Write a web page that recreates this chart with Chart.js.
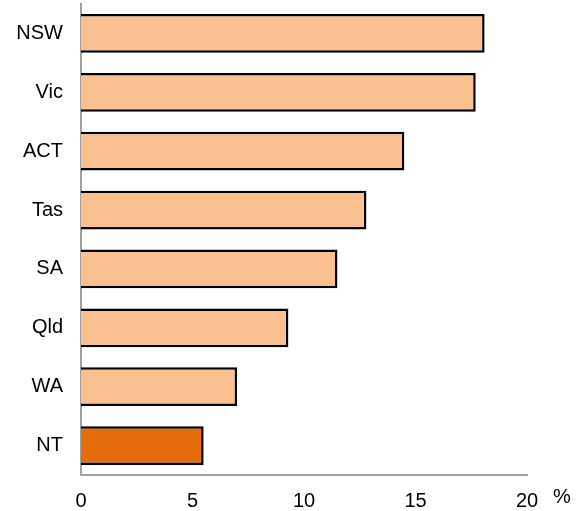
<!DOCTYPE html>
<html>
<head>
<meta charset="utf-8">
<script src="https://cdn.jsdelivr.net/npm/chart.js@4"></script>
<style>
    html, body { margin: 0; padding: 0; background: #ffffff; }
    #wrap { width: 583px; height: 511px; position: relative; }
</style>
</head>
<body>
<div id="wrap"><canvas id="stateChart"></canvas></div>
<script>
/* ==========================================
   Data
   ========================================== */

const states = ["NSW", "Vic", "ACT", "Tas", "SA", "Qld", "WA", "NT"];
const values = [18.1, 17.7, 14.5, 12.8, 11.5, 9.3, 7.0, 5.5];
const xTicks = [0, 5, 10, 15, 20];
const unitLabel = "%";

// NT is highlighted
const barColours = states.map(s => s === "NT" ? "#E46C0A" : "#FAC090");

// "%" beside the last tick
const unitPlugin = {
    id: "unitLabel",
    afterDraw(chart) {
        const ctx = chart.ctx;
        const x = chart.scales.x;
        ctx.save();
        ctx.font = "20px 'Liberation Sans', Arial, sans-serif";
        ctx.fillStyle = "#000000";
        ctx.textAlign = "center";
        ctx.textBaseline = "middle";
        ctx.fillText(unitLabel, x.right + 35, x.top + 22);
        ctx.restore();
    }
};

new Chart(document.getElementById("stateChart"), {

    type: "bar",

    data: {
        labels: states,
        datasets: [{
            data: values,
            backgroundColor: barColours,
            borderColor: "#000000",
            borderWidth: 2.5,
            borderSkipped: "start",
            categoryPercentage: 0.66,
            barPercentage: 1
        }]
    },

    options: {
        indexAxis: "y",
        responsive: true,
        maintainAspectRatio: false,
        animation: false,
        layout: {
            padding: { top: 4, right: 56, left: 0, bottom: 0 }
        },
        plugins: {
            legend: { display: false },
            tooltip: { enabled: false }
        },
        scales: {
            x: {
                min: 0,
                max: 20,
                afterBuildTicks(scale) {
                    scale.ticks = xTicks.map(v => ({ value: v }));
                },
                afterFit(scale) {
                    scale.height = 36;
                },
                grid: { display: false, drawTicks: false },
                border: { color: "#A0A0A0", width: 2 },
                ticks: {
                    color: "#000000",
                    padding: 14,
                    maxRotation: 0,
                    font: { family: "'Liberation Sans', Arial, sans-serif", size: 20 }
                }
            },
            y: {
                afterFit(scale) {
                    scale.width = 81;
                    scale.paddingTop = 0;
                    scale.paddingBottom = 0;
                },
                grid: { display: false, drawTicks: false },
                border: { color: "#A0A0A0", width: 2 },
                ticks: {
                    color: "#000000",
                    padding: 18,
                    font: { family: "'Liberation Sans', Arial, sans-serif", size: 20 }
                }
            }
        }
    },

    plugins: [unitPlugin]

});
</script>
</body>
</html>
